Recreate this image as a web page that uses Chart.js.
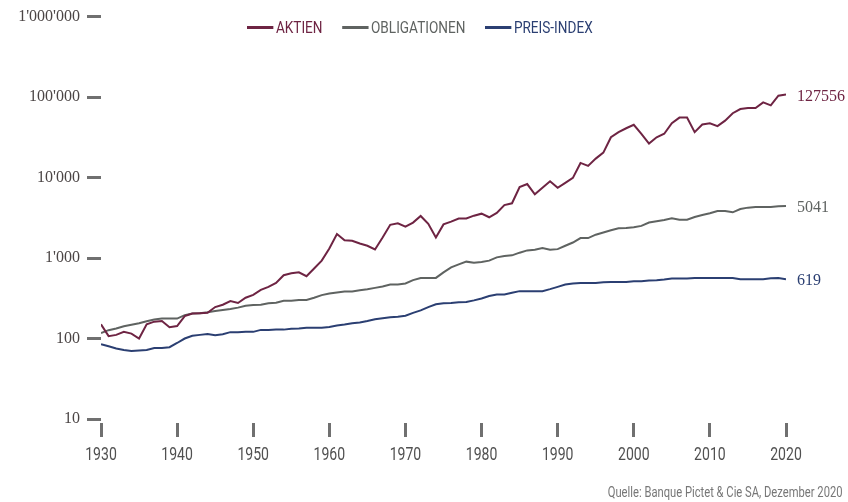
<!DOCTYPE html>
<html lang="de">
<head>
<meta charset="utf-8">
<script src="https://cdn.jsdelivr.net/npm/chart.js"></script>
<style>
    body { margin: 0; background: #fff; }
    #wrap { position: relative; width: 848px; height: 502px; }
    #legend {
        position: absolute; left: 247px; top: 18px;
        display: flex; gap: 23px;
        font: 16px Roboto, "DejaVu Sans", sans-serif;
        transform: scaleX(0.85); transform-origin: left center;
        white-space: nowrap;
    }
    #legend span.item { display: flex; align-items: center; }
    #legend span.sw { display: inline-block; width: 31px; height: 3px; margin-right: 3px; }
    #source {
        position: absolute; right: 5px; bottom: 2px;
        font: 14px Roboto, "DejaVu Sans", sans-serif;
        transform: scaleX(0.8); transform-origin: right center;
        white-space: nowrap;
        color: #777;
    }
</style>
</head>
<body>
<div id="wrap">
    <canvas id="chart" width="848" height="502"></canvas>
    <div id="legend"></div>
    <div id="source">Quelle: Banque Pictet &amp; Cie SA, Dezember 2020</div>
</div>
<script>
    // Jahre 1930-2020
    const years = [
        1930, 1931, 1932, 1933, 1934, 1935, 1936, 1937, 1938, 1939,
        1940, 1941, 1942, 1943, 1944, 1945, 1946, 1947, 1948, 1949,
        1950, 1951, 1952, 1953, 1954, 1955, 1956, 1957, 1958, 1959,
        1960, 1961, 1962, 1963, 1964, 1965, 1966, 1967, 1968, 1969,
        1970, 1971, 1972, 1973, 1974, 1975, 1976, 1977, 1978, 1979,
        1980, 1981, 1982, 1983, 1984, 1985, 1986, 1987, 1988, 1989,
        1990, 1991, 1992, 1993, 1994, 1995, 1996, 1997, 1998, 1999,
        2000, 2001, 2002, 2003, 2004, 2005, 2006, 2007, 2008, 2009,
        2010, 2011, 2012, 2013, 2014, 2015, 2016, 2017, 2018, 2019,
        2020
    ];

    const aktien = [
        150, 107, 111, 121, 115, 100, 150, 162, 165, 138,
        143, 190, 204, 206, 209, 246, 263, 292, 276, 321,
        349, 403, 438, 491, 611, 647, 664, 594, 740, 930,
        1316, 1987, 1660, 1640, 1514, 1420, 1279, 1800, 2590, 2700,
        2450, 2760, 3330, 2660, 1800, 2620, 2830, 3100, 3100, 3360,
        3560, 3210, 3630, 4550, 4790, 7610, 8300, 6200, 7450, 9000,
        7450, 8600, 9900, 15200, 13970, 17200, 20400, 31700, 36700, 41000,
        45200, 35000, 26500, 31700, 35000, 47300, 55600, 55600, 36700, 45700,
        47300, 43600, 51000, 63000, 71000, 73300, 73300, 86000, 79000, 104000,
        108000
    ];

    const obligationen = [
        117, 127, 133, 142, 148, 155, 164, 172, 177, 177,
        177, 195, 204, 206, 212, 220, 226, 233, 242, 256,
        261, 263, 274, 279, 295, 295, 301, 301, 321, 346,
        363, 374, 385, 385, 399, 410, 426, 444, 469, 469,
        483, 531, 566, 566, 566, 663, 767, 835, 902, 877,
        892, 929, 1020, 1060, 1080, 1166, 1245, 1270, 1330, 1270,
        1290, 1420, 1560, 1770, 1770, 1950, 2080, 2210, 2340, 2360,
        2410, 2510, 2760, 2860, 2970, 3120, 3000, 3000, 3240, 3430,
        3600, 3850, 3850, 3700, 4070, 4230, 4310, 4310, 4310, 4390,
        4440
    ];

    const preisIndex = [
        85, 80, 75, 72, 70, 71, 72, 76, 76, 78,
        88, 100, 108, 111, 114, 110, 113, 120, 120, 121,
        121, 128, 128, 129, 129, 132, 133, 136, 136, 136,
        139, 145, 149, 155, 158, 165, 174, 179, 184, 187,
        192, 208, 224, 246, 266, 274, 276, 282, 284, 298,
        315, 337, 353, 353, 370, 388, 388, 388, 388, 411,
        438, 468, 483, 491, 491, 491, 501, 505, 505, 505,
        515, 515, 525, 530, 540, 557, 557, 557, 566, 566,
        566, 566, 566, 566, 546, 546, 546, 546, 562, 566,
        546
    ];

    const seriesNames = ['AKTIEN', 'OBLIGATIONEN', 'PREIS-INDEX'];
    const seriesColors = ['#6e2443', '#5f6361', '#2b3f72'];
    const endLabels = ['127556', '5041', '619'];
    const yTicks = [10, 100, 1000, 10000, 100000, 1000000];
    const xTicks = [1930, 1940, 1950, 1960, 1970, 1980, 1990, 2000, 2010, 2020];

    const tickColor = '#707070';
    const sans = 'Roboto, "DejaVu Sans", sans-serif';
    const serif = '"Liberation Serif", "DejaVu Serif", serif';

    function toPoints(values) {
        return values.map((v, i) => ({ x: years[i], y: v }));
    }

    function formatThousands(v) {
        return String(v).replace(/\B(?=(\d{3})+(?!\d))/g, "'");
    }

    // Legende als HTML
    const legendEl = document.getElementById('legend');
    seriesNames.forEach((name, i) => {
        const item = document.createElement('span');
        item.className = 'item';
        item.style.color = seriesColors[i];
        item.innerHTML = `<span class="sw" style="background:${seriesColors[i]}"></span>${name}`;
        legendEl.appendChild(item);
    });

    // Jahreszahlen schmal gezeichnet (Condensed-Schrift gibt es nicht)
    const xLabelPlugin = {
        id: 'xLabels',
        afterDraw(chart) {
            const ctx = chart.ctx;
            const xs = chart.scales.x;
            const y = chart.chartArea.bottom + 36;
            ctx.save();
            ctx.font = '18px ' + sans;
            ctx.fillStyle = '#505050';
            ctx.textAlign = 'center';
            ctx.textBaseline = 'middle';
            xTicks.forEach(v => {
                ctx.save();
                ctx.translate(xs.getPixelForValue(v), y);
                ctx.scale(0.78, 1);
                ctx.fillText(String(v), 0, 0);
                ctx.restore();
            });
            ctx.restore();
        }
    };

    // Endwerte rechts neben den Linien
    const endLabelPlugin = {
        id: 'endLabels',
        afterDatasetsDraw(chart) {
            const ctx = chart.ctx;
            ctx.save();
            ctx.font = '16px ' + serif;
            ctx.textBaseline = 'middle';
            ctx.textAlign = 'left';
            chart.data.datasets.forEach((ds, i) => {
                const meta = chart.getDatasetMeta(i);
                const last = meta.data[meta.data.length - 1];
                ctx.fillStyle = seriesColors[i];
                ctx.fillText(endLabels[i], last.x + 11, last.y + 2);
            });
            ctx.restore();
        }
    };

    new Chart(document.getElementById('chart'), {
        type: 'line',
        data: {
            datasets: [aktien, obligationen, preisIndex].map((values, i) => ({
                label: seriesNames[i],
                data: toPoints(values),
                borderColor: seriesColors[i],
                borderWidth: 2,
                pointRadius: 0,
                tension: 0,
                fill: false
            }))
        },
        options: {
            responsive: false,
            animation: false,
            layout: { padding: { top: 16, right: 62, bottom: 0, left: 0 } },
            plugins: {
                legend: { display: false },
                tooltip: { enabled: false }
            },
            scales: {
                x: {
                    type: 'linear',
                    min: 1930,
                    max: 2020,
                    afterBuildTicks: (scale) => { scale.ticks = xTicks.map(v => ({ value: v })); },
                    afterFit: (scale) => { scale.height = 83; },
                    border: { display: false },
                    grid: {
                        drawOnChartArea: false,
                        tickLength: 18,
                        tickWidth: 3,
                        tickColor: tickColor,
                        tickBorderDash: [0, 4, 14]
                    },
                    ticks: { display: false }
                },
                y: {
                    type: 'logarithmic',
                    min: 10,
                    max: 1000000,
                    afterBuildTicks: (scale) => { scale.ticks = yTicks.map(v => ({ value: v })); },
                    afterFit: (scale) => { scale.width = 101; },
                    border: { display: false },
                    grid: {
                        drawOnChartArea: false,
                        tickLength: 14,
                        tickWidth: 3,
                        tickColor: tickColor
                    },
                    ticks: {
                        padding: 7,
                        color: '#4b4545',
                        font: { family: serif, size: 16 },
                        callback: (v) => formatThousands(v)
                    }
                }
            }
        },
        plugins: [endLabelPlugin, xLabelPlugin]
    });
</script>
</body>
</html>
